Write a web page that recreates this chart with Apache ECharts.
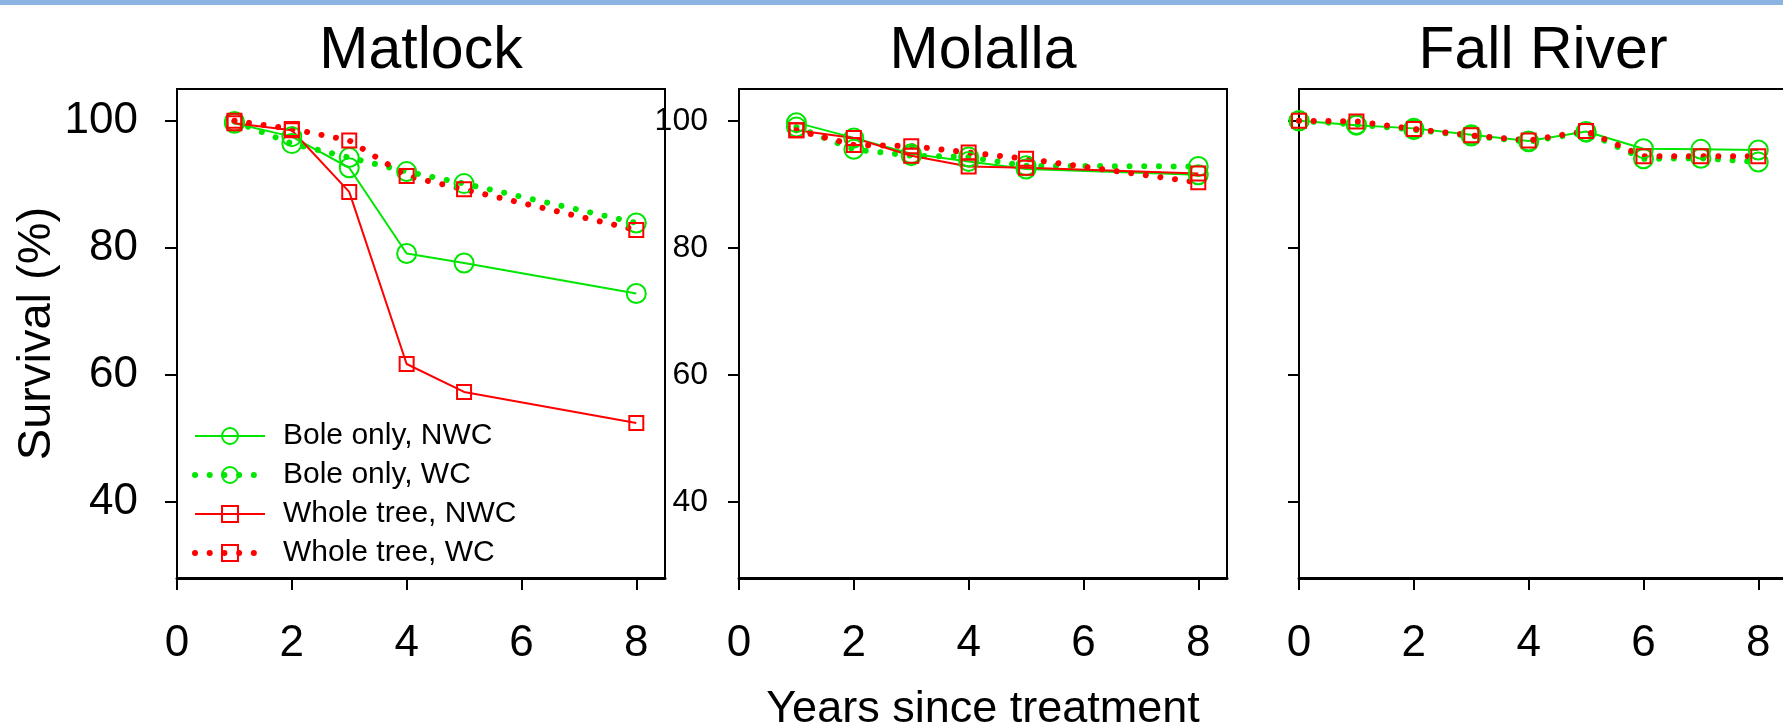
<!DOCTYPE html>
<html>
<head>
<meta charset="utf-8">
<script src="https://cdn.jsdelivr.net/npm/echarts@6/dist/echarts.min.js"></script>
<style>
  html, body { margin: 0; padding: 0; background: #fff; }
  #chart { width: 1783px; height: 727px; }
</style>
</head>
<body>
<div id="chart"></div>
<script>
// Seedling survival (%) by years since treatment, three sites
const siteNames = ['Matlock', 'Molalla', 'Fall River'];
const treatmentNames = ['Bole only, NWC', 'Bole only, WC', 'Whole tree, NWC', 'Whole tree, WC'];

const matlockYears = [1, 2, 3, 4, 5, 8];
const matlockBoleNWC = [99.6, 97.5, 92.6, 79.1, 77.6, 72.8];
const matlockBoleWC = [99.9, 96.4, 94.2, 92.0, 90.1, 83.9];
const matlockWholeNWC = [99.6, 98.5, 88.8, 61.7, 57.3, 52.4];
const matlockWholeWC = [100.0, 98.7, 96.9, 91.3, 89.2, 82.8];

const molallaYears = [1, 2, 3, 4, 5, 8];
const molallaBoleNWC = [99.7, 97.3, 94.8, 93.6, 92.4, 91.5];
const molallaBoleWC = [99.0, 95.5, 94.5, 94.3, 92.9, 92.8];
const molallaWholeNWC = [98.5, 97.3, 94.5, 92.8, 92.6, 91.7];
const molallaWholeWC = [98.5, 96.2, 96.0, 95.0, 94.0, 90.3];

const fallRiverYears = [0, 1, 2, 3, 4, 5, 6, 7, 8];
const fallRiverBoleNWC = [100.0, 99.3, 98.8, 97.8, 96.8, 98.3, 95.6, 95.5, 95.4];
const fallRiverBoleWC = [100.0, 99.4, 98.6, 97.6, 96.7, 98.2, 94.0, 94.1, 93.5];
const fallRiverWholeWC = [100.0, 99.9, 98.7, 97.7, 96.9, 98.4, 94.4, 94.4, 94.4];

const xTickValues = [0, 2, 4, 6, 8];
const yTickValues = [40, 60, 80, 100];

const FONT = '"Liberation Sans", Arial, Helvetica, sans-serif';
const GREEN = '#00e600';
const RED = '#ff0000';

const pairs = (xs, ys) => xs.map((x, i) => [x, ys[i]]);

// line / marker style for each treatment
const DOTS = { width: 6, type: [0.01, 14.7], cap: 'round' };
const treatmentStyles = [
  { color: GREEN, symbol: 'circle', size: 19, dotted: false },
  { color: GREEN, symbol: 'circle', size: 19, dotted: true },
  { color: RED, symbol: 'rect', size: 14, dotted: false },
  { color: RED, symbol: 'rect', size: 14, dotted: true }
];

function lineStyleFor(st) {
  return st.dotted
    ? Object.assign({ color: st.color }, DOTS)
    : { color: st.color, width: 2, type: 'solid' };
}

function makeSeries(treatmentIndex, gridIndex, xs, ys) {
  const st = treatmentStyles[treatmentIndex];
  return {
    type: 'line',
    name: treatmentNames[treatmentIndex],
    xAxisIndex: gridIndex,
    yAxisIndex: gridIndex,
    data: pairs(xs, ys),
    symbol: st.symbol,
    symbolSize: st.size,
    showSymbol: true,
    animation: false,
    itemStyle: { color: 'transparent', borderColor: st.color, borderWidth: 2 },
    lineStyle: lineStyleFor(st),
    emphasis: { disabled: true }
  };
}

const panelLefts = [177, 739, 1299];
const panelWidth = 488;
const gridTop = 89;
const gridHeight = 489;

const grids = panelLefts.map(l => ({
  left: l, top: gridTop, width: panelWidth, height: gridHeight,
  containLabel: false, outerBoundsMode: 'none',
  show: true, borderColor: '#000', borderWidth: 2, backgroundColor: 'transparent'
}));

const xAxes = panelLefts.map((l, i) => ({
  type: 'value', gridIndex: i, min: 0, max: 8.5,
  axisLine: { show: true, onZero: false, lineStyle: { color: '#000', width: 3 } },
  axisTick: { show: true, inside: false, length: 12, customValues: xTickValues, lineStyle: { color: '#000', width: 2 } },
  axisLabel: { show: true, customValues: xTickValues, fontSize: 44, color: '#000', fontFamily: FONT, margin: 44 },
  splitLine: { show: false },
  name: i === 1 ? 'Years since treatment' : '',
  nameLocation: 'middle',
  nameGap: 109,
  nameTextStyle: { fontSize: 45, color: '#000', fontFamily: FONT }
}));

const yLabelSizes = [44, 32, 12];
const yLabelMargins = [39, 31, 8];
const yAxes = panelLefts.map((l, i) => ({
  type: 'value', gridIndex: i, min: 28, max: 105,
  axisLine: { show: true, onZero: false, lineStyle: { color: '#000', width: 2 } },
  axisTick: { show: true, inside: false, length: i === 0 ? 12 : 11, customValues: yTickValues, lineStyle: { color: '#000', width: 2 } },
  axisLabel: { show: i < 2, customValues: yTickValues, fontSize: yLabelSizes[i], color: '#000', fontFamily: FONT, margin: yLabelMargins[i] },
  splitLine: { show: false },
  name: i === 0 ? 'Survival (%)' : '',
  nameLocation: 'middle',
  nameRotate: 90,
  nameGap: 104,
  nameTextStyle: { fontSize: 47, color: '#000', fontFamily: FONT }
}));

const series = [
  makeSeries(0, 0, matlockYears, matlockBoleNWC),
  makeSeries(1, 0, matlockYears, matlockBoleWC),
  makeSeries(2, 0, matlockYears, matlockWholeNWC),
  makeSeries(3, 0, matlockYears, matlockWholeWC),
  makeSeries(0, 1, molallaYears, molallaBoleNWC),
  makeSeries(1, 1, molallaYears, molallaBoleWC),
  makeSeries(2, 1, molallaYears, molallaWholeNWC),
  makeSeries(3, 1, molallaYears, molallaWholeWC),
  makeSeries(0, 2, fallRiverYears, fallRiverBoleNWC),
  makeSeries(1, 2, fallRiverYears, fallRiverBoleWC),
  makeSeries(3, 2, fallRiverYears, fallRiverWholeWC)
];

const titleCenters = panelLefts.map(l => l + panelWidth / 2);

const option = {
  backgroundColor: '#ffffff',
  animation: false,
  title: siteNames.map((name, i) => ({
    text: name,
    left: titleCenters[i],
    top: 22,
    textAlign: 'center',
    padding: 0,
    textStyle: { fontSize: 59, fontWeight: 'normal', color: '#000', fontFamily: FONT }
  })),
  legend: {
    data: treatmentNames.map((name, i) => ({
      name: name,
      lineStyle: lineStyleFor(treatmentStyles[i])
    })),
    orient: 'vertical',
    left: 192,
    top: 421,
    itemWidth: 70,
    itemHeight: 20,
    itemGap: 9,
    padding: 0,
    selectedMode: false,
    textStyle: { fontSize: 30, color: '#000', fontFamily: FONT, padding: [0, 0, 0, 13] }
  },
  graphic: [{
    type: 'rect', left: 0, top: 0,
    shape: { width: 1783, height: 5 },
    style: { fill: '#8db3e2' }, silent: true
  }],
  grid: grids,
  xAxis: xAxes,
  yAxis: yAxes,
  series: series
};

const chart = echarts.init(document.getElementById('chart'), null, { renderer: 'canvas' });
chart.setOption(option);
</script>
</body>
</html>
